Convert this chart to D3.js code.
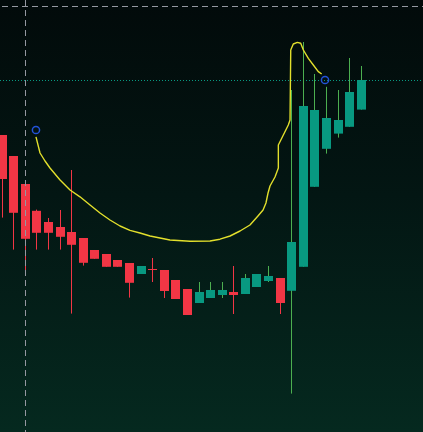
<!DOCTYPE html>
<html><head><meta charset="utf-8">
<script src="https://cdn.jsdelivr.net/npm/d3@7"></script>
<style>html,body{margin:0;padding:0;background:#020b0a;overflow:hidden}</style>
</head><body>
<script>
// Candle data (index = bar number)
const opens  = [74.25,69,62,55.3,52.5,51.25,50,48.5,45.5,44.5,43,42.25,39.5,40.75,40.5,38,35.75,32.25,33.5,34.25,35,34.5,36.25,37.75,38.5,35.3,41.3,61.3,70.8,74.6,76.3,80.6];
const highs  = [74.25,69,62,55.6,53.5,55.5,65.5,48.5,45.5,44.5,43,42.25,41.5,43.5,40.5,38,35.75,37.5,37.5,37.5,41.5,39.5,39.5,41.5,38.5,85.5,97.5,89.5,86.3,85.5,93.5,91.5];
const lows   = [53.6,45.6,39.6,45.6,45.6,45.6,29.6,41.6,43.3,41.3,41.3,33.6,39.5,37.5,33.5,33.25,29.25,32.25,33.5,33.5,29.5,34.5,36.25,37.5,29.5,9.6,41.3,61.3,69.6,73.6,76.3,80.6];
const closes = [63.25,54.8,48.3,49.8,49.8,48.8,46.8,42.3,43.3,41.3,41.3,37.3,41.5,40.5,35.25,33.25,29.25,35,35.5,35.5,34.25,38.5,39.5,39,32.25,47.5,81.5,80.5,78.5,78,85,88];

// Yellow curve (bar position, value)
const curveX = [2.96,3.31,3.74,4.17,5.04,5.9,6.76,7.63,8.49,9.35,10.22,11.08,11.94,12.81,14.53,16.26,17.99,18.85,19.72,20.58,21.44,22.13,22.57,22.82,23.0,23.17,23.6,23.89,23.89,24.32,24.75,24.9,24.96,25.18,25.53,25.82,26.05,26.48,26.91,27.34,27.63];
const curveY = [73.8,69.75,67.75,66,63,60.5,58.8,56.75,54.75,53,51.5,50.4,49.75,49,48,47.7,47.75,48.2,49,50.25,51.75,54,55.5,57.25,59.75,61.5,63.75,66,71.75,74.25,76.75,78,95.5,97,97.4,97.2,95.5,93.4,91.75,90.1,89.5];

// Markers
const markerX = [2.96,27.92];
const markerY = [75.5,88];

// Crosshair & price line
const crossX = 2.04, crossY = 106.5;
const lastPrice = 88;

const W = 423, H = 432;
const x = d3.scaleLinear().domain([0, 1]).range([1.7, 13.28]);
const y = d3.scaleLinear().domain([0, 108]).range([H, 0]);

const svg = d3.select("body").append("svg").attr("width", W).attr("height", H);
const defs = svg.append("defs");
const grad = defs.append("linearGradient").attr("id","bg").attr("x1",0).attr("y1",0).attr("x2",0).attr("y2",1);
grad.append("stop").attr("offset","0%").attr("stop-color","#020a0a");
grad.append("stop").attr("offset","45%").attr("stop-color","#031613");
grad.append("stop").attr("offset","100%").attr("stop-color","#05291f");
svg.append("rect").attr("width",W).attr("height",H).attr("fill","url(#bg)");

// price line
svg.append("line").attr("x1",0).attr("x2",W).attr("y1",Math.round(y(lastPrice))+0.5).attr("y2",Math.round(y(lastPrice))+0.5)
  .attr("stroke","#089981").attr("stroke-width",1).attr("stroke-dasharray","1,2");

const RED = "#f23645", TEAL = "#089981", WICKG = "#4caf50";
const bars = d3.range(opens.length).map(i => ({i, o:opens[i], h:highs[i], l:lows[i], c:closes[i]}));
const bw = 9;
const g = svg.append("g");
g.selectAll("line.wick").data(bars).join("line").attr("class","wick")
  .attr("x1", d => Math.round(x(d.i)) + 0.5).attr("x2", d => Math.round(x(d.i)) + 0.5)
  .attr("y1", d => y(d.h)).attr("y2", d => y(d.l))
  .attr("stroke", d => d.c >= d.o ? WICKG : RED).attr("stroke-width",1);
g.selectAll("rect.body").data(bars).join("rect").attr("class","body")
  .attr("x", d => Math.round(x(d.i)) - 4).attr("width", bw)
  .attr("y", d => y(Math.max(d.o,d.c)))
  .attr("height", d => Math.max(1, Math.abs(y(d.o) - y(d.c))))
  .attr("fill", d => d.c >= d.o ? TEAL : RED);

// yellow curve
const pts = curveX.map((v,k) => [x(v), y(curveY[k])]);
svg.append("path").attr("d", d3.line().curve(d3.curveLinear)(pts))
  .attr("fill","none").attr("stroke","#e2df2c").attr("stroke-width",1.4).attr("stroke-linejoin","round");

// markers
svg.selectAll("circle.m").data(markerX).join("circle").attr("class","m")
  .attr("cx",(d,k)=>x(d)).attr("cy",(d,k)=>y(markerY[k])).attr("r",3.6)
  .attr("fill","none").attr("stroke","#2352d8").attr("stroke-width",1.5);

// crosshair
svg.append("line").attr("x1",Math.round(x(crossX))+0.5).attr("x2",Math.round(x(crossX))+0.5).attr("y1",0).attr("y2",H)
  .attr("stroke","#9598a1").attr("stroke-width",1).attr("stroke-dasharray","6,4");
svg.append("line").attr("x1",2).attr("x2",W).attr("y1",Math.round(y(crossY))+0.5).attr("y2",Math.round(y(crossY))+0.5)
  .attr("stroke","#9598a1").attr("stroke-width",1).attr("stroke-dasharray","6,4");
</script>
</body></html>
